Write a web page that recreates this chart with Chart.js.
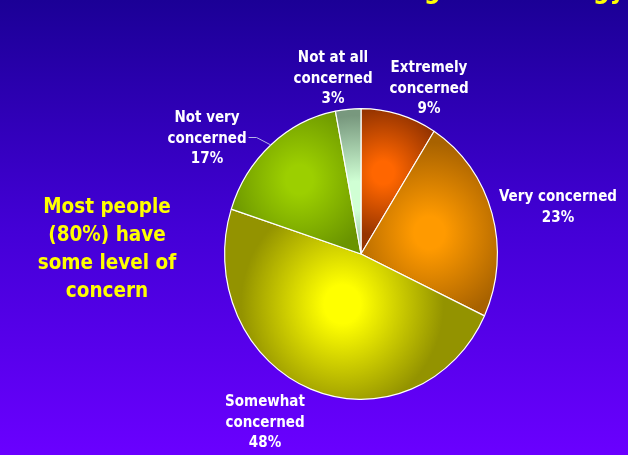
<!DOCTYPE html>
<html>
<head>
<meta charset="utf-8">
<script src="https://cdn.jsdelivr.net/npm/chart.js@4/dist/chart.umd.min.js"></script>
<style>
  html, body { margin: 0; padding: 0; }
  body {
    width: 628px; height: 455px; overflow: hidden;
    background: linear-gradient(to bottom, #1b0096 0%, #4300d6 50%, #6a00ff 100%);
  }
  #wrap { position: relative; width: 628px; height: 455px; }
</style>
</head>
<body>
<div id="wrap"><canvas id="pie" width="628" height="455"></canvas></div>
<script>
// Survey answers, clockwise from twelve o'clock
const categories = [
  ['Extremely', 'concerned'],
  ['Very concerned'],
  ['Somewhat', 'concerned'],
  ['Not very', 'concerned'],
  ['Not at all', 'concerned']
];
const shares = [9, 23, 48, 17, 3];
const sideNote = ['Most people', '(80%) have', 'some level of', 'concern'];
const titleText = 'Concern About Rising Home Energy Costs';

// Fill colours for each slice: bright core fading to a darker rim
const sliceStyles = [
  { bright: '#ff6600', dark: '#963400', d: 0.58, R: 0.44 },
  { bright: '#ff9a00', dark: '#a86200', d: 0.52, R: 0.62 },
  { bright: '#ffff00', dark: '#939300', d: 0.37, R: 0.74 },
  { bright: '#9ccf00', dark: '#6a9400', d: 0.68, R: 0.55 },
  { bright: '#d0ffd4', dark: '#78987e', d: 0.40, R: 0.55 }
];

// Label anchors: centre x and first baseline; line gap shared
const labelSpots = [
  { x: 429, y: 72 },
  { x: 558, y: 201 },
  { x: 265, y: 406 },
  { x: 207, y: 122 },
  { x: 333, y: 62 }
];
const LINE_GAP = 20.5;
const OVAL_X = 137 / 141, OVAL_Y = 146 / 141;
const FONT_FAMILY = '"DejaVu Sans Condensed", "DejaVu Sans", sans-serif';

const total = shares.reduce((a, b) => a + b, 0);
function midAngle(i) {
  let before = 0;
  for (let k = 0; k < i; k++) before += shares[k];
  return (before + shares[i] / 2) / total * Math.PI * 2 - Math.PI / 2;
}

function sliceFill(c) {
  const st = sliceStyles[c.dataIndex];
  const chart = c.chart, area = chart.chartArea;
  if (!area) return st.dark;
  const cx = (area.left + area.right) / 2, cy = (area.top + area.bottom) / 2;
  const r = Math.min(area.right - area.left, area.bottom - area.top) / 2;
  const a = midAngle(c.dataIndex);
  const hx = cx + Math.cos(a) * st.d * r, hy = cy + Math.sin(a) * st.d * r;
  const g = chart.ctx.createRadialGradient(hx, hy, 0, hx, hy, st.R * r);
  g.addColorStop(0, st.bright);
  g.addColorStop(0.18, st.bright);
  g.addColorStop(1, st.dark);
  return g;
}

// Stretches the pie into a slightly tall oval
const ovalPlugin = {
  id: 'oval',
  beforeDatasetsDraw(chart) {
    const arc = chart.getDatasetMeta(0).data[0];
    const ctx = chart.ctx;
    ctx.save();
    ctx.translate(arc.x, arc.y);
    ctx.scale(OVAL_X, OVAL_Y);
    ctx.translate(-arc.x, -arc.y);
  },
  afterDatasetsDraw(chart) { chart.ctx.restore(); }
};

// Slice labels, leader line, side note and heading
const textPlugin = {
  id: 'texts',
  afterDraw(chart) {
    const ctx = chart.ctx;
    const arcs = chart.getDatasetMeta(0).data;
    ctx.save();
    ctx.textBaseline = 'alphabetic';

    // heading (only its lower edge fits in view)
    ctx.fillStyle = '#ffff00';
    ctx.font = 'bold 26px ' + FONT_FAMILY;
    ctx.textAlign = 'left';
    const lead = ctx.measureText('Concern About Risin').width;
    ctx.fillText(titleText, 424 - lead, -2.5);

    // slice labels
    ctx.textAlign = 'center';
    ctx.fillStyle = '#ffffff';
    ctx.font = 'bold 15px ' + FONT_FAMILY;
    categories.forEach((lines, i) => {
      const spot = labelSpots[i];
      const all = lines.concat([shares[i] + '%']);
      all.forEach((t, j) => ctx.fillText(t, spot.x, spot.y + j * LINE_GAP));
    });

    // leader line for the "Not very concerned" label
    const i = 3;
    const spot = labelSpots[i];
    const w = ctx.measureText(categories[i][1]).width;
    const sx = spot.x + w / 2 + 2, sy = spot.y + LINE_GAP - 5;
    const arc = arcs[i];
    const a = midAngle(i);
    const ex = arc.x + Math.cos(a) * arc.outerRadius * OVAL_X;
    const ey = arc.y + Math.sin(a) * arc.outerRadius * OVAL_Y;
    ctx.strokeStyle = '#b4b4e6';
    ctx.lineWidth = 1;
    ctx.beginPath();
    ctx.moveTo(sx, sy);
    ctx.lineTo(sx + 8, sy);
    ctx.lineTo(ex, ey);
    ctx.stroke();

    // side note
    ctx.fillStyle = '#ffff00';
    ctx.font = 'bold 20.5px ' + FONT_FAMILY;
    sideNote.forEach((t, j) => ctx.fillText(t, 107, 213 + j * 28));
    ctx.restore();
  }
};

new Chart(document.getElementById('pie'), {
  type: 'pie',
  data: {
    labels: categories,
    datasets: [{
      data: shares,
      backgroundColor: sliceFill,
      borderColor: '#ffffff',
      borderWidth: 1.2
    }]
  },
  options: {
    responsive: false,
    animation: false,
    layout: { padding: { left: 220, right: 126, top: 113, bottom: 60 } },
    plugins: {
      legend: { display: false },
      tooltip: { enabled: false },
      title: { display: false }
    }
  },
  plugins: [ovalPlugin, textPlugin]
});
</script>
</body>
</html>
